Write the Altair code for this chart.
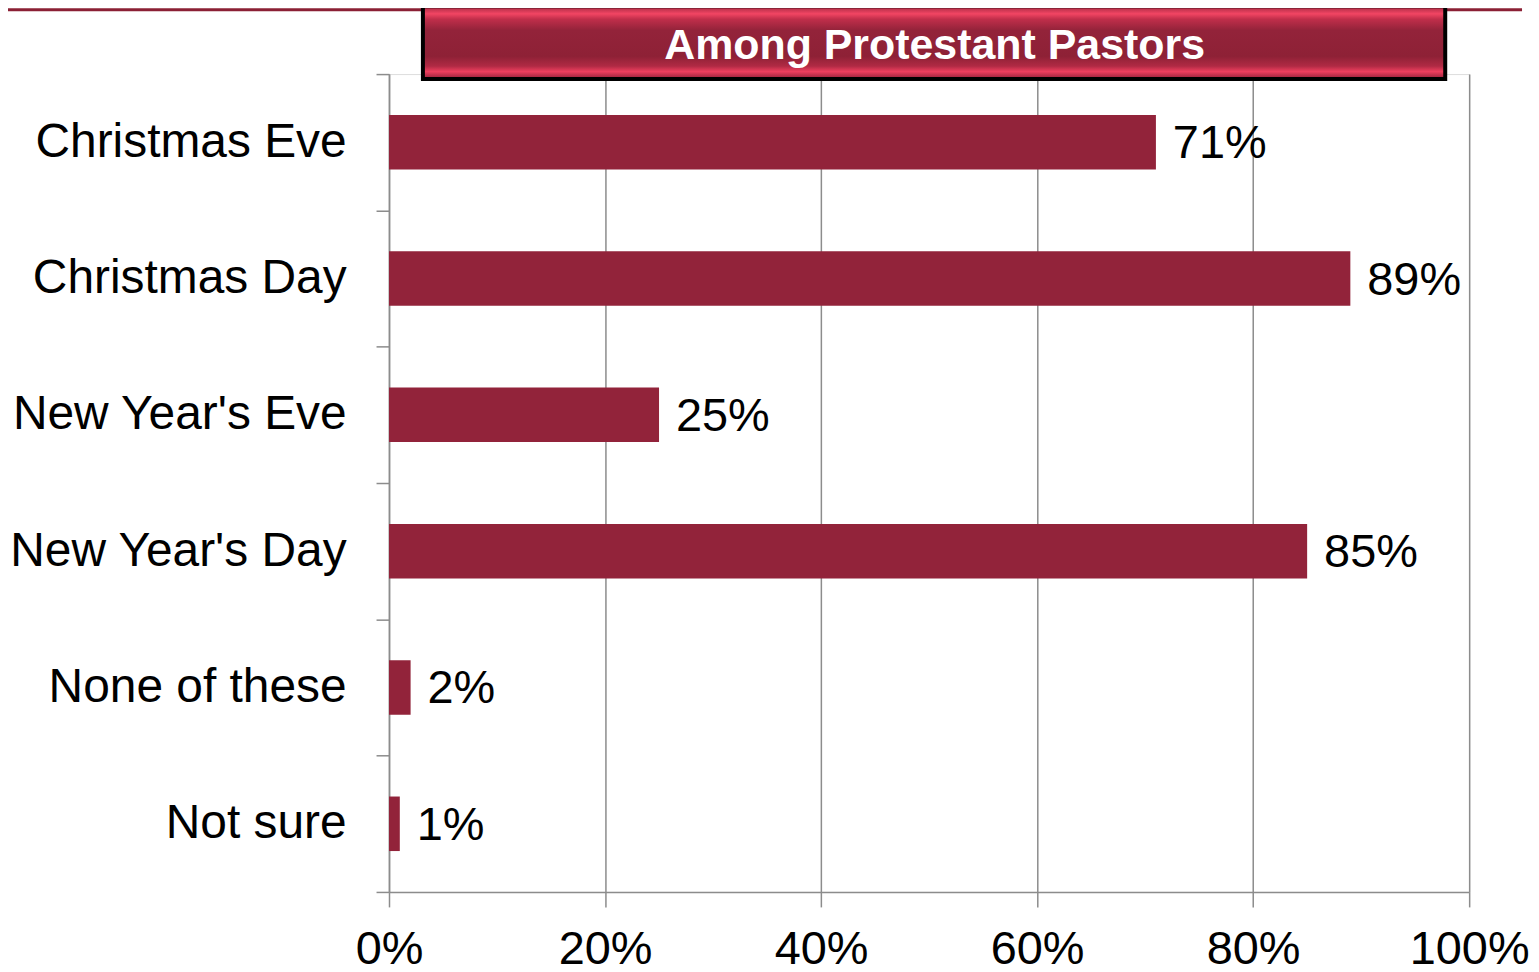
import altair as alt
import pandas as pd

categories = ["Christmas Eve", "Christmas Day", "New Year's Eve", "New Year's Day", "None of these", "Not sure"]
values = [0.71, 0.89, 0.25, 0.85, 0.02, 0.01]
labels = ["71%", "89%", "25%", "85%", "2%", "1%"]
x_ticks = [0, 0.2, 0.4, 0.6, 0.8, 1.0]
title_text = "Among Protestant Pastors"

FONT = "Liberation Sans"
BAR = "#92233A"
GRID = "#8C8C8C"

df = pd.DataFrame({"category": categories, "value": values, "label": labels})
one = pd.DataFrame({"t": [title_text]})

W, H = 1083, 820

y_enc = alt.Y(
    "category:N",
    sort=categories,
    scale=alt.Scale(paddingInner=0, paddingOuter=0),
    axis=alt.Axis(
        title=None, labelFontSize=48, labelFont=FONT, labelColor="black",
        labelPadding=30, tickSize=13, tickBand="extent", tickColor=GRID,
        tickWidth=1.5, domainColor=GRID, domainWidth=1.5, labelLimit=600,
        grid=False,
    ),
)
x_enc = alt.X(
    "value:Q",
    scale=alt.Scale(domain=[0, 1], nice=False),
    axis=alt.Axis(
        title=None, values=x_ticks, format=".0%", labelFontSize=47,
        labelFont=FONT, labelColor="black", labelPadding=20, tickSize=15,
        tickColor=GRID, tickWidth=1.5, domainColor=GRID, domainWidth=1.5,
        grid=True, gridColor=GRID, gridWidth=1.5, labelFlush=False,
        labelOverlap=False, labelBound=False,
    ),
)

bars = alt.Chart(df).mark_bar(color=BAR, height={"band": 0.4}).encode(x=x_enc, y=y_enc)
texts = alt.Chart(df).mark_text(
    align="left", baseline="middle", dx=17, dy=2, fontSize=47, font=FONT, color="black"
).encode(x="value:Q", y=alt.Y("category:N", sort=categories), text="label:N")

top_line = alt.Chart(one).mark_rule(color="#8B2035", strokeWidth=3).encode(
    x=alt.value(-382), x2=alt.value(1136), y=alt.value(-64.5)
)
box_outer = alt.Chart(one).mark_rect(color="black").encode(
    x=alt.value(32), x2=alt.value(1061), y=alt.value(-70), y2=alt.value(7)
)
grad = alt.LinearGradient(
    gradient="linear", x1=0, x2=0, y1=0, y2=1,
    stops=[
        alt.GradientStop(offset=0.0, color="#B8304A"),
        alt.GradientStop(offset=0.08, color="#F24563"),
        alt.GradientStop(offset=0.16, color="#C02E4A"),
        alt.GradientStop(offset=0.32, color="#93233A"),
        alt.GradientStop(offset=0.7, color="#8E2136"),
        alt.GradientStop(offset=0.84, color="#B02A44"),
        alt.GradientStop(offset=0.92, color="#EE3F5E"),
        alt.GradientStop(offset=1.0, color="#A82842"),
    ],
)
box_inner = alt.Chart(one).mark_rect(color=grad).encode(
    x=alt.value(36), x2=alt.value(1057), y=alt.value(-66), y2=alt.value(3)
)
title = alt.Chart(one).mark_text(
    align="center", baseline="alphabetic", fontSize=43, fontWeight="bold",
    font=FONT, color="white"
).encode(x=alt.value(547), y=alt.value(-15), text="t:N")

chart = alt.layer(bars, texts, top_line, box_outer, box_inner, title).properties(
    width=W, height=H,
    padding={"left": 382, "top": 65, "right": 62, "bottom": 76},
    autosize=alt.AutoSizeParams(type="none"),
).configure_view(stroke=None).configure(background="white")

chart.save("out.html", embed_options={"renderer": "svg", "actions": False})
